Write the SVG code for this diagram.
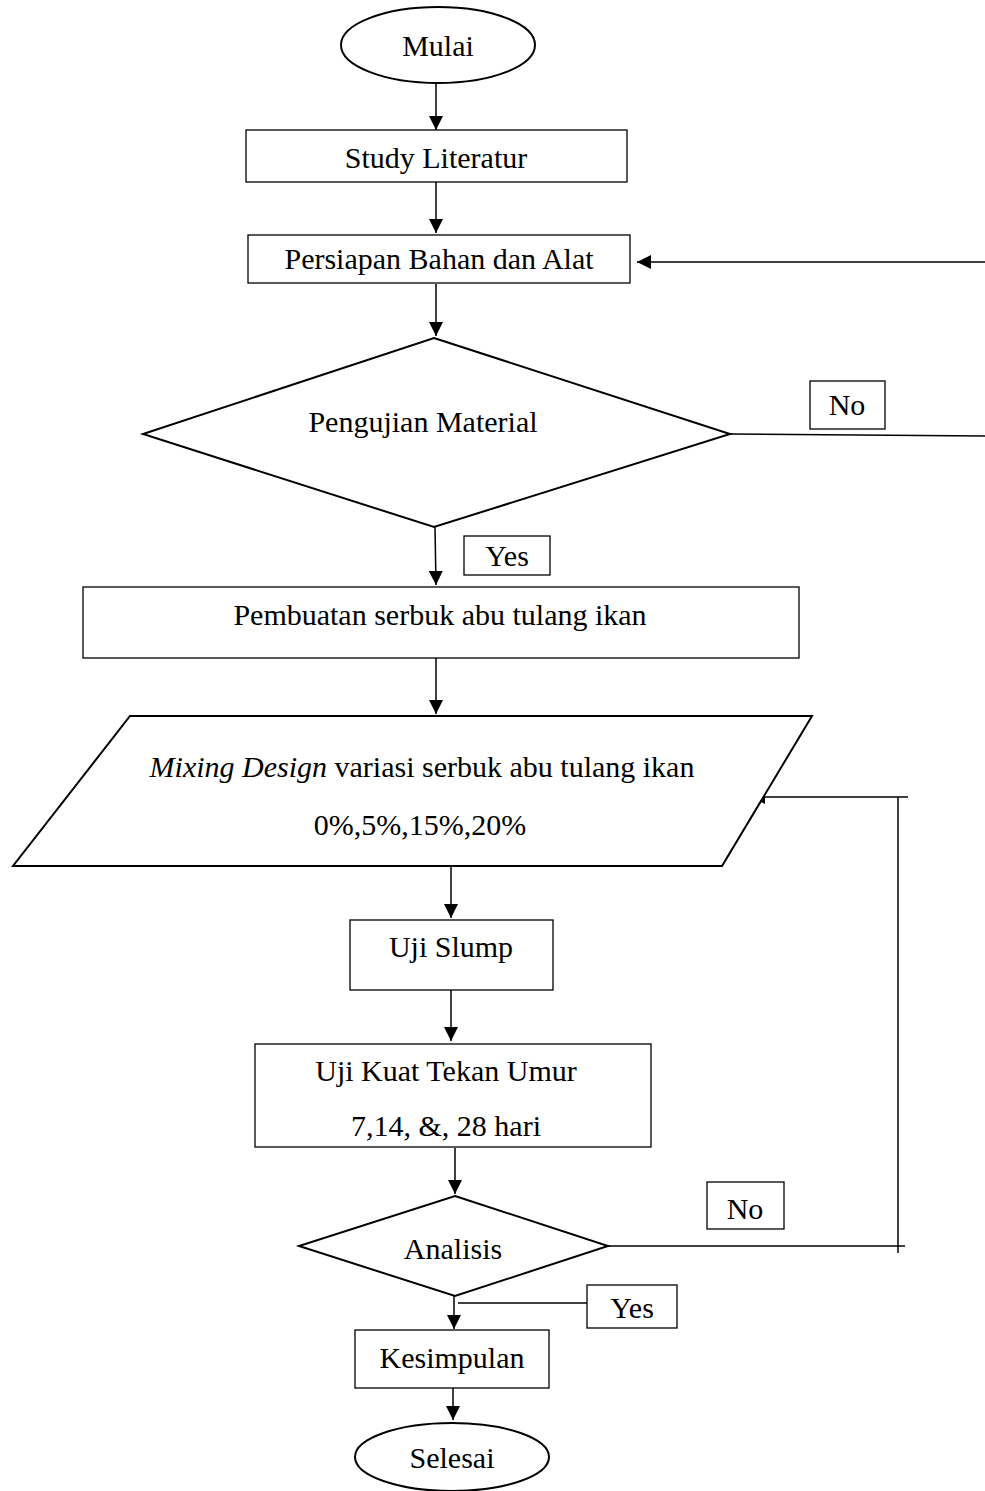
<svg xmlns="http://www.w3.org/2000/svg" width="985" height="1491" viewBox="0 0 985 1491">
<style>
.s{fill:#fff;stroke:#000;stroke-width:2}
.b{fill:#fff;stroke:#000;stroke-width:1.3}
.c{fill:none;stroke:#000;stroke-width:1.5}
text{font-family:"Liberation Serif","Times New Roman",serif;font-size:30px;fill:#000;text-anchor:middle}
</style>
<defs>
<marker id="a" viewBox="0 0 14 14" refX="14" refY="7" markerWidth="14" markerHeight="14" markerUnits="userSpaceOnUse" orient="auto">
<path d="M0,0 L14,7 L0,14 z" fill="#000"/>
</marker>
</defs>
<g id="connectors">
<line class="c" x1="436" y1="84" x2="436" y2="130" marker-end="url(#a)"/>
<line class="c" x1="436" y1="182" x2="436" y2="233" marker-end="url(#a)"/>
<line class="c" x1="436" y1="284" x2="436" y2="336" marker-end="url(#a)"/>
<line class="c" x1="985" y1="262" x2="637" y2="262" marker-end="url(#a)"/>
<line class="c" x1="730" y1="434" x2="985" y2="436"/>
<line class="c" x1="435" y1="527" x2="436" y2="585" marker-end="url(#a)"/>
<line class="c" x1="436" y1="658" x2="436" y2="714" marker-end="url(#a)"/>
<line class="c" x1="451" y1="866" x2="451" y2="918" marker-end="url(#a)"/>
<line class="c" x1="451" y1="990" x2="451" y2="1041" marker-end="url(#a)"/>
<line class="c" x1="455" y1="1148" x2="455" y2="1194" marker-end="url(#a)"/>
<line class="c" x1="608" y1="1246" x2="905" y2="1246"/>
<line class="c" x1="898" y1="797" x2="898" y2="1253"/>
<line class="c" x1="908" y1="797" x2="751" y2="797" marker-end="url(#a)"/>
<line class="c" x1="454" y1="1296" x2="454" y2="1329" marker-end="url(#a)"/>
<line class="c" x1="458" y1="1303" x2="587" y2="1303"/>
<line class="c" x1="453" y1="1388" x2="453" y2="1420" marker-end="url(#a)"/>
</g>
<g id="mulai"><ellipse class="s" cx="438" cy="45" rx="97" ry="38"/><text x="438" y="56">Mulai</text></g>
<g id="study"><rect class="b" x="246" y="130" width="381" height="52"/><text x="436" y="168">Study Literatur</text></g>
<g id="persiapan"><rect class="b" x="248" y="235" width="382" height="48"/><text x="439" y="269">Persiapan Bahan dan Alat</text></g>
<g id="pengujian"><polygon class="s" points="434,338 730,434 434,527 143,434"/><text x="423" y="432">Pengujian Material</text></g>
<g id="no1"><rect class="b" x="810" y="381" width="75" height="48"/><text x="847" y="415">No</text></g>
<g id="yes1"><rect class="b" x="464" y="536" width="86" height="39"/><text x="507" y="566">Yes</text></g>
<g id="pembuatan"><rect class="b" x="83" y="587" width="716" height="71"/><text x="440" y="625">Pembuatan serbuk abu tulang ikan</text></g>
<g id="mixing"><polygon class="s" points="130,716 812,716 722,866 13,866"/><text x="422" y="777"><tspan font-style="italic">Mixing Design</tspan> variasi serbuk abu tulang ikan</text><text x="420" y="835">0%,5%,15%,20%</text></g>
<g id="slump"><rect class="b" x="350" y="920" width="203" height="70"/><text x="451" y="957">Uji Slump</text></g>
<g id="kuat"><rect class="b" x="255" y="1044" width="396" height="103"/><text x="446" y="1081">Uji Kuat Tekan Umur</text><text x="446" y="1136">7,14, &amp;, 28 hari</text></g>
<g id="analisis"><polygon class="s" points="455,1196 608,1246 455,1296 299,1246"/><text x="453" y="1259">Analisis</text></g>
<g id="no2"><rect class="b" x="707" y="1182" width="77" height="47"/><text x="745" y="1219">No</text></g>
<g id="yes2"><rect class="b" x="587" y="1285" width="90" height="43"/><text x="632" y="1318">Yes</text></g>
<g id="kesimpulan"><rect class="b" x="355" y="1330" width="194" height="58"/><text x="452" y="1368">Kesimpulan</text></g>
<g id="selesai"><ellipse class="s" cx="452" cy="1457" rx="97" ry="34"/><text x="452" y="1468">Selesai</text></g>
</svg>
